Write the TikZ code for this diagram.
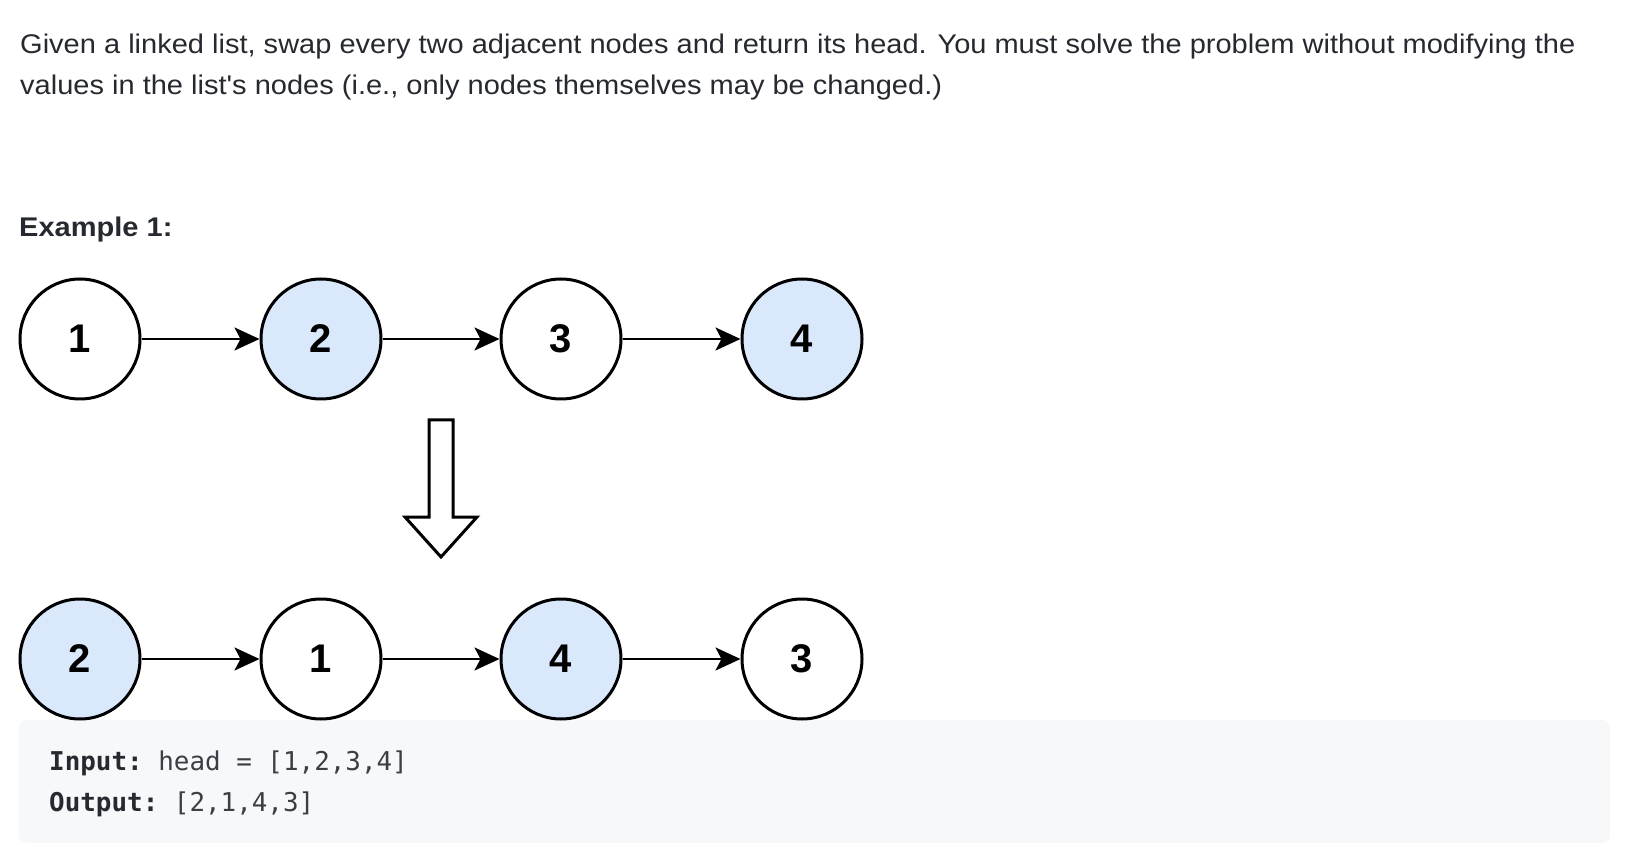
\documentclass[tikz,border=0pt]{standalone}
\usepackage{fontspec}
\setmainfont{Liberation Sans}[Ligatures=TeXOff]
\newfontfamily\bodyfont{Liberation Sans}[FakeStretch=1.075, Ligatures=TeXOff]
\setmonofont{DejaVu Sans Mono}
\usetikzlibrary{arrows.meta}
\definecolor{txt}{HTML}{262A30}
\definecolor{codetxt}{HTML}{3A3F46}
\definecolor{codebg}{HTML}{F7F8FA}
\definecolor{nodeblue}{HTML}{DAE8FC}
\begin{document}
\begin{tikzpicture}[x=1pt,y=-1pt,
  lnode/.style={circle, draw=black, line width=3pt, minimum size=120pt, inner sep=0pt,
    font=\fontsize{40}{40}\selectfont\bfseries},
  bnode/.style={lnode, fill=nodeblue},
  link/.style={line width=2.6pt, -{Stealth[length=25pt,width=23pt,inset=6pt]}},
  bodytext/.style={anchor=base west, inner sep=0pt, text=txt, font=\bodyfont\fontsize{27}{32}\selectfont},
  headtext/.style={anchor=base west, inner sep=0pt, text=txt, font=\bodyfont\fontsize{27}{32}\selectfont\bfseries},
  codetext/.style={anchor=base west, inner sep=0pt, text=codetxt, font=\fontsize{25.9}{30}\selectfont\ttfamily},
  hollow/.style={draw=black, fill=white, line width=3pt, line join=miter}
]
\useasboundingbox (0,0) rectangle (1634,866);
\fill[white] (0,0) rectangle (1634,866);

\node[bodytext] (line1) at (20,54) {Given a linked list, swap every two adjacent nodes and return its head. You must solve the problem without modifying the};
\node[bodytext] (line2) at (20,95) {values in the list's nodes (i.e., only nodes themselves may be changed.)};
\node[headtext] (ex) at (19,237) {Example 1:};

\fill[codebg, rounded corners=8pt] (19,720) rectangle (1610,843);

\node[lnode] (a1) at (80,339) {1};
\node[bnode] (a2) at (321,339) {2};
\node[lnode] (a3) at (561,339) {3};
\node[bnode] (a4) at (802,339) {4};
\draw[link] (a1) -- (a2);
\draw[link] (a2) -- (a3);
\draw[link] (a3) -- (a4);

\draw[hollow] (429,420) -- (453,420) -- (453,517) -- (477,517) -- (441,557) -- (405,517) -- (429,517) -- cycle;

\node[bnode] (b1) at (80,659) {2};
\node[lnode] (b2) at (321,659) {1};
\node[bnode] (b3) at (561,659) {4};
\node[lnode] (b4) at (802,659) {3};
\draw[link] (b1) -- (b2);
\draw[link] (b2) -- (b3);
\draw[link] (b3) -- (b4);

\node[codetext] (in) at (49,770) {\textbf{\color{txt}Input:} head = [1,2,3,4]};
\node[codetext] (out) at (49,811) {\textbf{\color{txt}Output:} [2,1,4,3]};
\end{tikzpicture}
\end{document}
